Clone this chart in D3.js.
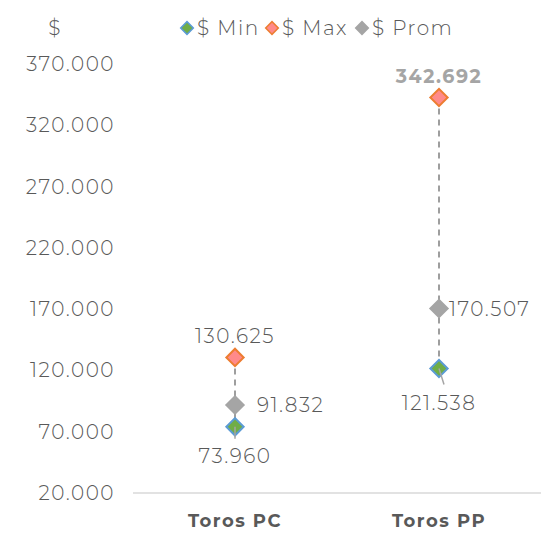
<!DOCTYPE html>
<html>
<head>
<meta charset="utf-8">
<script src="https://cdn.jsdelivr.net/npm/d3@7"></script>
<style>
  body { margin: 0; background: #fff; }
  text { font-family: "Montserrat", "Open Sans", sans-serif; letter-spacing: 1.5px; }
</style>
</head>
<body>
<svg id="chart"></svg>
<script>
// data
const categories = ["Toros PC", "Toros PP"];
const minValues = [73960, 121538];
const maxValues = [130625, 342692];
const promValues = [91832, 170507];
const tickValues = [20000, 70000, 120000, 170000, 220000, 270000, 320000, 370000];

const width = 548, height = 533;
const margin = { top: 64, right: 7, bottom: 40, left: 133 };

const svg = d3.select("#chart").attr("width", width).attr("height", height);

const x = d3.scaleBand().domain(categories).range([margin.left, width - margin.right]);
const y = d3.scaleLinear().domain([20000, 370000]).range([height - margin.bottom, margin.top]);

const fmt = v => d3.format(",.0f")(v).replace(/,/g, ".");
const textColor = "#595959";
const thin = "300";

// y tick labels
svg.append("g")
  .selectAll("text")
  .data(tickValues)
  .join("text")
  .attr("x", 115)
  .attr("y", d => y(d))
  .attr("dy", "0.35em")
  .attr("text-anchor", "end")
  .attr("font-size", "20px")
  .attr("font-weight", thin)
  .attr("fill", textColor)
  .text(d => fmt(d));

// axis line
svg.append("line")
  .attr("x1", margin.left).attr("x2", width - margin.right)
  .attr("y1", y(20000)).attr("y2", y(20000))
  .attr("stroke", "#d9d9d9").attr("stroke-width", 1.5);

// category labels
svg.append("g")
  .selectAll("text")
  .data(categories)
  .join("text")
  .attr("x", d => x(d) + x.bandwidth() / 2)
  .attr("y", 521)
  .attr("dy", "0.35em")
  .attr("text-anchor", "middle")
  .attr("font-size", "18px")
  .attr("font-weight", "bold")
  .attr("fill", textColor)
  .text(d => d);

// y unit
svg.append("text")
  .attr("x", 55).attr("y", 28).attr("dy", "0.35em")
  .attr("text-anchor", "middle")
  .attr("font-size", "20px").attr("font-weight", thin).attr("fill", textColor)
  .text("$");

// high-low dashed lines
svg.append("g")
  .selectAll("line")
  .data(categories)
  .join("line")
  .attr("x1", d => x(d) + x.bandwidth() / 2)
  .attr("x2", d => x(d) + x.bandwidth() / 2)
  .attr("y1", (d, i) => y(maxValues[i]))
  .attr("y2", (d, i) => y(minValues[i]))
  .attr("stroke", "#7f7f7f")
  .attr("stroke-width", 1.5)
  .attr("stroke-dasharray", "6,5");

const diamond = d3.symbol().type(d3.symbolSquare).size(150);

const series = [
  { name: "$ Min", values: minValues, fill: "#70ad47", stroke: "#5b9bd5" },
  { name: "$ Max", values: maxValues, fill: "#ff8a8a", stroke: "#ed7d31" },
  { name: "$ Prom", values: promValues, fill: "#a5a5a5", stroke: "#a5a5a5" }
];

series.forEach(s => {
  svg.append("g")
    .selectAll("path")
    .data(categories)
    .join("path")
    .attr("d", diamond)
    .attr("transform", (d, i) => `translate(${x(d) + x.bandwidth() / 2},${y(s.values[i])}) rotate(45)`)
    .attr("fill", s.fill)
    .attr("stroke", s.stroke)
    .attr("stroke-width", 2);
});

// leader lines for min labels
svg.append("g")
  .selectAll("line")
  .data(categories)
  .join("line")
  .attr("x1", d => x(d) + x.bandwidth() / 2)
  .attr("y1", (d, i) => y(minValues[i]))
  .attr("x2", (d, i) => x(d) + x.bandwidth() / 2 + (i ? 5 : 0))
  .attr("y2", (d, i) => y(minValues[i]) + (i ? 16 : 12))
  .attr("stroke", "#a5a5a5")
  .attr("stroke-width", 1.5);

// data labels
const cx = i => x(categories[i]) + x.bandwidth() / 2;
const labels = [
  { t: fmt(maxValues[0]), x: cx(0), y: y(maxValues[0]) - 21, a: "middle", bold: false, c: textColor },
  { t: fmt(promValues[0]), x: cx(0) + 22, y: y(promValues[0]), a: "start", bold: false, c: textColor },
  { t: fmt(minValues[0]), x: cx(0), y: y(minValues[0]) + 29, a: "middle", bold: false, c: textColor },
  { t: fmt(maxValues[1]), x: cx(1), y: y(maxValues[1]) - 21, a: "middle", bold: true, c: "#a5a5a5" },
  { t: fmt(promValues[1]), x: cx(1) + 10, y: y(promValues[1]), a: "start", bold: false, c: textColor },
  { t: fmt(minValues[1]), x: cx(1), y: y(minValues[1]) + 34, a: "middle", bold: false, c: textColor }
];
svg.append("g")
  .selectAll("text")
  .data(labels)
  .join("text")
  .attr("x", d => d.x).attr("y", d => d.y).attr("dy", "0.35em")
  .attr("text-anchor", d => d.a)
  .attr("font-size", d => d.bold ? "19px" : "20px")
  .attr("font-weight", d => d.bold ? "bold" : thin)
  .attr("fill", d => d.c)
  .text(d => d.t);

// legend
const legendX = [187, 272, 362];
const lg = svg.append("g")
  .selectAll("g")
  .data(series)
  .join("g")
  .attr("transform", (d, i) => `translate(${legendX[i]},28)`);
lg.append("path")
  .attr("d", d3.symbol().type(d3.symbolSquare).size(80))
  .attr("transform", "rotate(45)")
  .attr("fill", d => d.fill)
  .attr("stroke", d => d.stroke)
  .attr("stroke-width", 1.5);
lg.append("text")
  .attr("x", 10).attr("dy", "0.35em")
  .attr("font-size", "20px").attr("font-weight", thin).attr("fill", textColor)
  .attr("letter-spacing", "1px")
  .text(d => d.name);
</script>
</body>
</html>
